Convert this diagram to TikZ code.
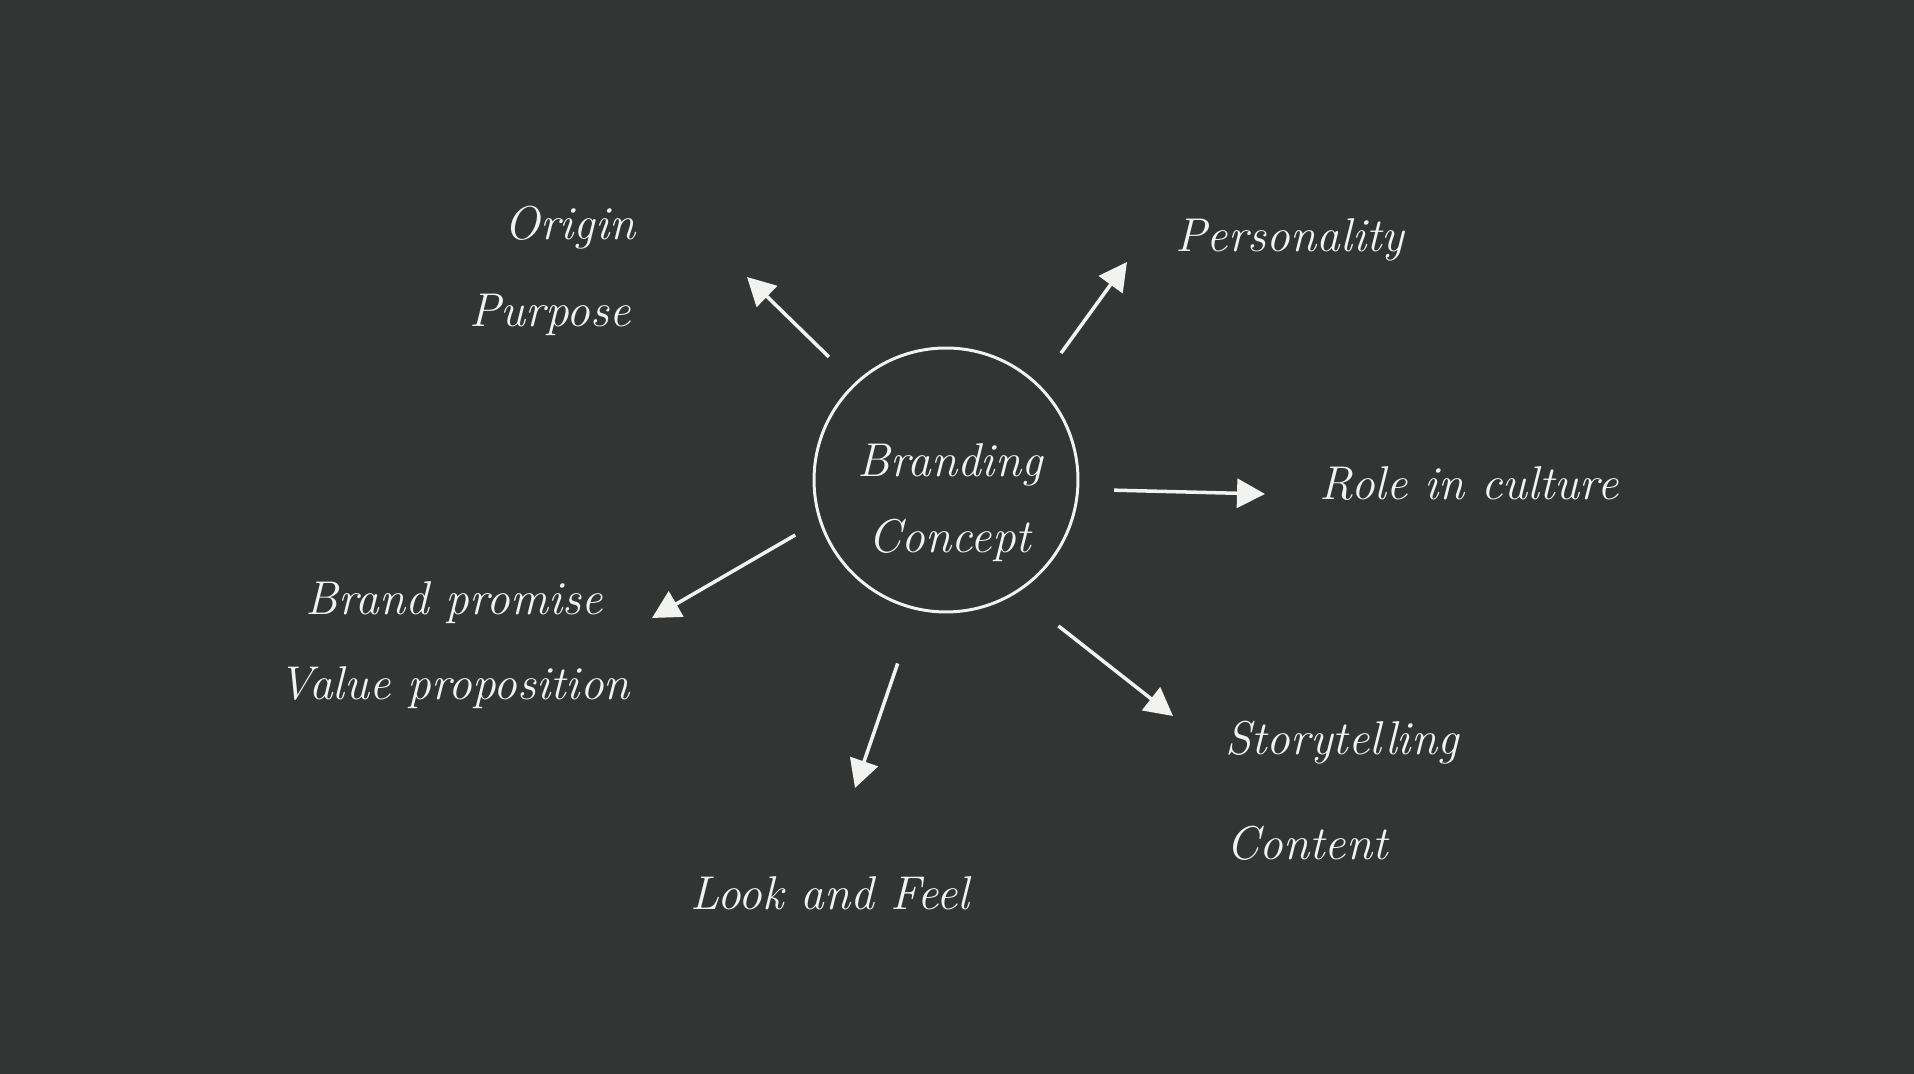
\documentclass[tikz,border=0pt]{standalone}
\usetikzlibrary{arrows.meta,positioning}
\definecolor{board}{RGB}{51,53,53}
\definecolor{chalk}{RGB}{242,242,240}
\tikzset{
    hub/.style={
        circle,draw=chalk,line width=1.7pt,
        minimum size=5.28cm,inner sep=0pt
    },
    word/.style={
        text=chalk,anchor=base,
        font=\fontsize{27}{32}\selectfont\itshape
    },
    arrow/.style={
        -{Triangle[length=0.56cm,width=0.58cm]},line width=2pt,draw=chalk
    }
}
\begin{document}
\begin{tikzpicture}[x=0.02cm,y=0.02cm]

\fill[board] (0,0) rectangle (1914,1074);

\node[hub] (hub) at (946,594) {};
\node[word] (branding) at (950,597) {Branding};
\node[word] (concept) at (950,521) {Concept};

\node[word] (origin) at (570,834) {Origin};
\node[word] (purpose) at (550,747) {Purpose};
\node[word] (personality) at (1290,822) {Personality};
\node[word] (role) at (1469,574) {Role in culture};
\node[word] (promise) at (454,459) {Brand promise};
\node[word] (value) at (454,374) {Value proposition};
\node[word] (story) at (1342,319) {Storytelling};
\node[word] (content) at (1307,214) {Content};
\node[word] (look) at (830,164) {Look and Feel};

\coordinate (toOrigin) at (747,797);
\coordinate (toPersonality) at (1127,812);
\coordinate (toRole) at (1265,580);
\coordinate (toPromise) at (652,456);
\coordinate (toLook) at (855,286);
\coordinate (toStory) at (1173,358);

\draw[arrow,shorten <=0.73cm] (hub.133) -- (toOrigin);
\draw[arrow,shorten <=0.76cm] (hub.46.9) -- (toPersonality);
\draw[arrow,shorten <=0.70cm] (hub.-4.5) -- (toRole);
\draw[arrow,shorten <=0.55cm] (hub.198.3) -- (toPromise);
\draw[arrow,shorten <=1.13cm] (hub.257) -- (toLook);
\draw[arrow,shorten <=1.06cm] (hub.-58.3) -- (toStory);

\end{tikzpicture}
\end{document}
